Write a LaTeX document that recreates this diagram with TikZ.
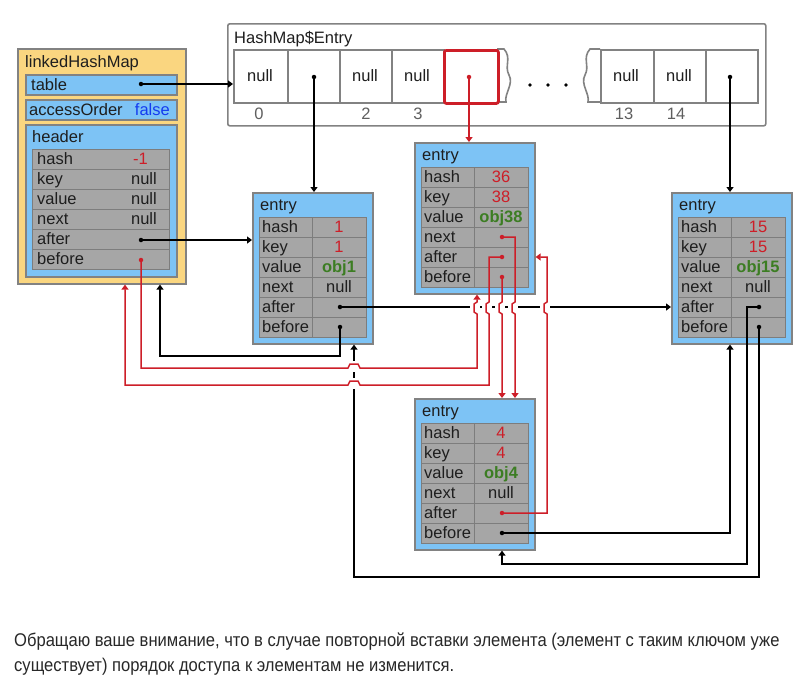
\documentclass[tikz,border=0pt]{standalone}
\usepackage{fontspec}
\setmainfont{Liberation Sans}
\newfontfamily\narrowfont[FakeStretch=0.9]{Liberation Sans}
\usetikzlibrary{arrows.meta,calc}
\definecolor{yel}{RGB}{250,214,128}
\definecolor{bluec}{RGB}{125,195,245}
\definecolor{rowc}{RGB}{166,166,166}
\definecolor{rowb}{RGB}{125,125,125}
\definecolor{bordc}{RGB}{130,130,130}
\definecolor{redc}{RGB}{205,30,40}
\definecolor{greenc}{RGB}{60,125,35}
\definecolor{bluet}{RGB}{20,60,240}
\definecolor{txtc}{RGB}{30,30,30}
\definecolor{idxc}{RGB}{95,95,95}
\definecolor{bodyc}{RGB}{40,40,40}
\tikzset{
  bluebox/.style={draw=bordc, line width=1.6pt, fill=bluec, anchor=north west, inner sep=0pt},
  cellrow/.style={draw=rowb, line width=1.1pt, fill=rowc, anchor=north west, inner sep=0pt, minimum height=20pt},
  arrcell/.style={draw=bordc, line width=1.6pt, fill=white, anchor=north west, inner sep=0pt, minimum height=53pt},
  lab/.style={anchor=base west, inner sep=0pt, text=txtc},
  val/.style={anchor=base, inner sep=0pt, text=txtc},
  dotb/.style={circle, fill=black, inner sep=0pt, minimum size=4.5pt},
  dotr/.style={circle, fill=redc, inner sep=0pt, minimum size=4.5pt},
  bk/.style={line width=1.5pt, draw=black, -{Triangle[length=5pt,width=7pt]}},
  rd/.style={line width=1.5pt, draw=redc, -{Triangle[length=5pt,width=7pt]}},
  gap/.style={fill=white, draw=none}
}
\newcommand\entrybox[7]{%
\begin{scope}[shift={(#2,#3)}]
\node[bluebox, minimum width=120pt, minimum height=151pt] (#1) at (0,0) {};
\node[lab] (#1-t) at (8,18) {entry};
\foreach \i/\l in {0/hash,1/key,2/value,3/next,4/after,5/before}{
  \node[cellrow, minimum width=53pt] (#1-l\i) at (7,25+20*\i) {};
  \node[cellrow, minimum width=54pt] (#1-v\i) at (60,25+20*\i) {};
  \node[lab] (#1-n\i) at (10,40+20*\i) {\l};
}
\node[val, text=redc] (#1-hash) at (87,40) {#4};
\node[val, text=redc] (#1-key) at (87,60) {#5};
\node[val, text=greenc, font=\fontsize{16.5}{19}\selectfont\bfseries] (#1-value) at (87,80) {#6};
\node[val] (#1-nx) at (87,100) {#7};
\end{scope}}
\begin{document}
\begin{tikzpicture}[x=1pt,y=-1pt, font=\fontsize{16.5}{19}\selectfont]
\useasboundingbox (0,0) rectangle (805,691);
\fill[white] (0,0) rectangle (805,691);

% ---------- linkedHashMap ----------
\node[draw=bordc, line width=1.6pt, fill=yel, anchor=north west, minimum width=168pt, minimum height=235pt, inner sep=0pt] (lhm) at (17,48) {};
\node[lab] (lhmt) at (25,67) {linkedHashMap};
\node[bluebox, minimum width=151pt, minimum height=20pt] (tbl) at (25,74) {};
\node[lab] (tbll) at (31,90) {table};
\node[dotb] (tdot) at (141,84) {};
\node[bluebox, minimum width=151pt, minimum height=20pt] (ao) at (25,99) {};
\node[lab] (aol) at (29,115) {accessOrder};
\node[anchor=base east, inner sep=0pt, text=bluet] (aov) at (170,115) {false};
\node[bluebox, minimum width=151pt, minimum height=152pt] (hdr) at (25,124) {};
\node[lab] (hdrl) at (32,142) {header};
\foreach \i/\l in {0/hash,1/key,2/value,3/next,4/after,5/before}{
  \node[cellrow, minimum width=137pt] (hr\i) at (32,149+20*\i) {};
  \node[lab] (hl\i) at (37,164+20*\i) {\l};
}
\node[anchor=base east, inner sep=0pt, text=redc] (hv0) at (148,164) {-1};
\node[anchor=base east, inner sep=0pt, text=txtc] (hv1) at (157,184) {null};
\node[anchor=base east, inner sep=0pt, text=txtc] (hv2) at (157,204) {null};
\node[anchor=base east, inner sep=0pt, text=txtc] (hv3) at (157,224) {null};
\node[dotb] (hafter) at (141,240) {};
\node[dotr] (hbefore) at (141,260) {};

% ---------- HashMap$Entry ----------
\node[draw=bordc, line width=1.6pt, rounded corners=2pt, fill=white, anchor=north west, minimum width=538pt, minimum height=102pt, inner sep=0pt] (hm) at (227,23) {};
\node[lab] (hmt) at (234,43) {HashMap\$Entry};
\node[arrcell, minimum width=54pt] (c0) at (233,49) {};
\node[arrcell, minimum width=52pt] (c1) at (287,49) {};
\node[arrcell, minimum width=52pt] (c2) at (339,49) {};
\node[arrcell, minimum width=52pt] (c3) at (391,49) {};
\draw[bordc, line width=1.6pt] (497,49) -- (504,49) .. controls (512,58) and (504,66) .. (509,75) .. controls (514,84) and (504,94) .. (506,102) -- (497,102);
\node[arrcell, minimum width=54pt, draw=redc, line width=2.8pt, rounded corners=2pt, fill=none] (c4) at (443,49) {};
\draw[bordc, line width=1.6pt] (600,49) -- (590,49) .. controls (582,58) and (590,66) .. (585,75) .. controls (580,84) and (590,94) .. (588,102) -- (600,102);
\node[arrcell, minimum width=53pt] (c13) at (600,49) {};
\node[arrcell, minimum width=52pt] (c14) at (653,49) {};
\node[arrcell, minimum width=52pt] (c15) at (705,49) {};
\node[circle, fill=black, inner sep=0pt, minimum size=3.6pt] (d1) at (530,85) {};
\node[circle, fill=black, inner sep=0pt, minimum size=3.6pt] (d2) at (548,85) {};
\node[circle, fill=black, inner sep=0pt, minimum size=3.6pt] (d3) at (566,85) {};
\node[val] (n0) at (260,81) {null};
\node[val] (n2) at (365,81) {null};
\node[val] (n3) at (417,81) {null};
\node[val] (n13) at (626,81) {null};
\node[val] (n14) at (679,81) {null};
\node[val, text=idxc] (i0) at (259,119) {0};
\node[val, text=idxc] (i2) at (366,119) {2};
\node[val, text=idxc] (i3) at (418,119) {3};
\node[val, text=idxc] (i13) at (624,119) {13};
\node[val, text=idxc] (i14) at (676,119) {14};
\node[dotb] (c1dot) at (314,77) {};
\node[dotr] (c4dot) at (469,77) {};
\node[dotb] (c15dot) at (730,77) {};

% ---------- entries ----------
\entrybox{e1}{252}{192}{1}{1}{obj1}{null}
\entrybox{e38}{414}{142}{36}{38}{obj38}{}
\entrybox{e15}{671}{192}{15}{15}{obj15}{null}
\entrybox{e4}{414}{398}{4}{4}{obj4}{null}
\node[dotb] (e1-after) at (340,307) {};
\node[dotb] (e1-before) at (340,327) {};
\node[dotr] (e38-next) at (502,237) {};
\node[dotr] (e38-after) at (502,257) {};
\node[dotr] (e38-before) at (502,277) {};
\node[dotb] (e15-after) at (759,307) {};
\node[dotb] (e15-before) at (759,327) {};
\node[dotr] (e4-after) at (502,513) {};
\node[dotb] (e4-before) at (502,533) {};

% ---------- black connectors ----------
\draw[bk] (tdot.center) -- (tdot.center -| c0.west);
\draw[bk] (c1dot.center) -- (c1dot.center |- e1.north);
\draw[bk] (c15dot.center) -- (c15dot.center |- e15.north);
\draw[bk] (hafter.center) -- (hafter.center -| e1.west);
\draw[bk] (e1-after.center) -- (e1-after.center -| e15.west);
\draw[bk] (e1-before.center) -- (340,356) -- (160,356) -- (160,0 |- lhm.south);
\draw[bk] (e4-before.center) -| (730,0 |- e15.south);
\draw[bk] (e15-after.center) -- (747,307) -- (747,564) -- (502,564) -- (502,0 |- e4.south);
\draw[bk] (e15-before.center) -- (759,577) -- (354,577) -- (354,0 |- e1.south);

% gaps where red lines hop over black ones
\foreach \x in {477,489,502,515,547}{ \fill[gap] (\x-7,304) rectangle (\x+3,311); }
\fill[gap] (350,361) rectangle (358,372);
\fill[gap] (350,378) rectangle (358,389);

% ---------- red connectors ----------
\draw[rd] (c4dot.center) -- (c4dot.center |- e38.north);
\draw[rd] (hbefore.center) -- (141,368) -- (348,368) -- (350,364) -- (358,364) -- (360,368) -- (477,368) -- (477,314) -- (474,312) -- (474,304) -- (477,302) -- (477,0 |- e38.south);
\draw[rd] (e38-after.center) -- (489,257) -- (489,302) -- (486,304) -- (486,312) -- (489,314) -- (489,385) -- (360,385) -- (358,381) -- (350,381) -- (348,385) -- (125,385) -- (125,0 |- lhm.south);
\draw[rd] (e38-before.center) -- (502,302) -- (499,304) -- (499,312) -- (502,314) -- (502,0 |- e4.north);
\draw[rd] (e38-next.center) -- (515,237) -- (515,302) -- (512,304) -- (512,312) -- (515,314) -- (515,0 |- e4.north);
\draw[rd] (e4-after.center) -- (547,513) -- (547,314) -- (544,312) -- (544,304) -- (547,302) -- (547,257) -- (e38-after.center -| e38.east);

% ---------- caption ----------
\node[anchor=base west, inner sep=0pt, text=bodyc, font=\narrowfont\fontsize{18.4}{21}\selectfont] (cap1) at (14,646) {Обращаю ваше внимание, что в случае повторной вставки элемента (элемент с таким ключом уже};
\node[anchor=base west, inner sep=0pt, text=bodyc, font=\narrowfont\fontsize{18.4}{21}\selectfont] (cap2) at (14,671) {существует) порядок доступа к элементам не изменится.};
\end{tikzpicture}
\end{document}
